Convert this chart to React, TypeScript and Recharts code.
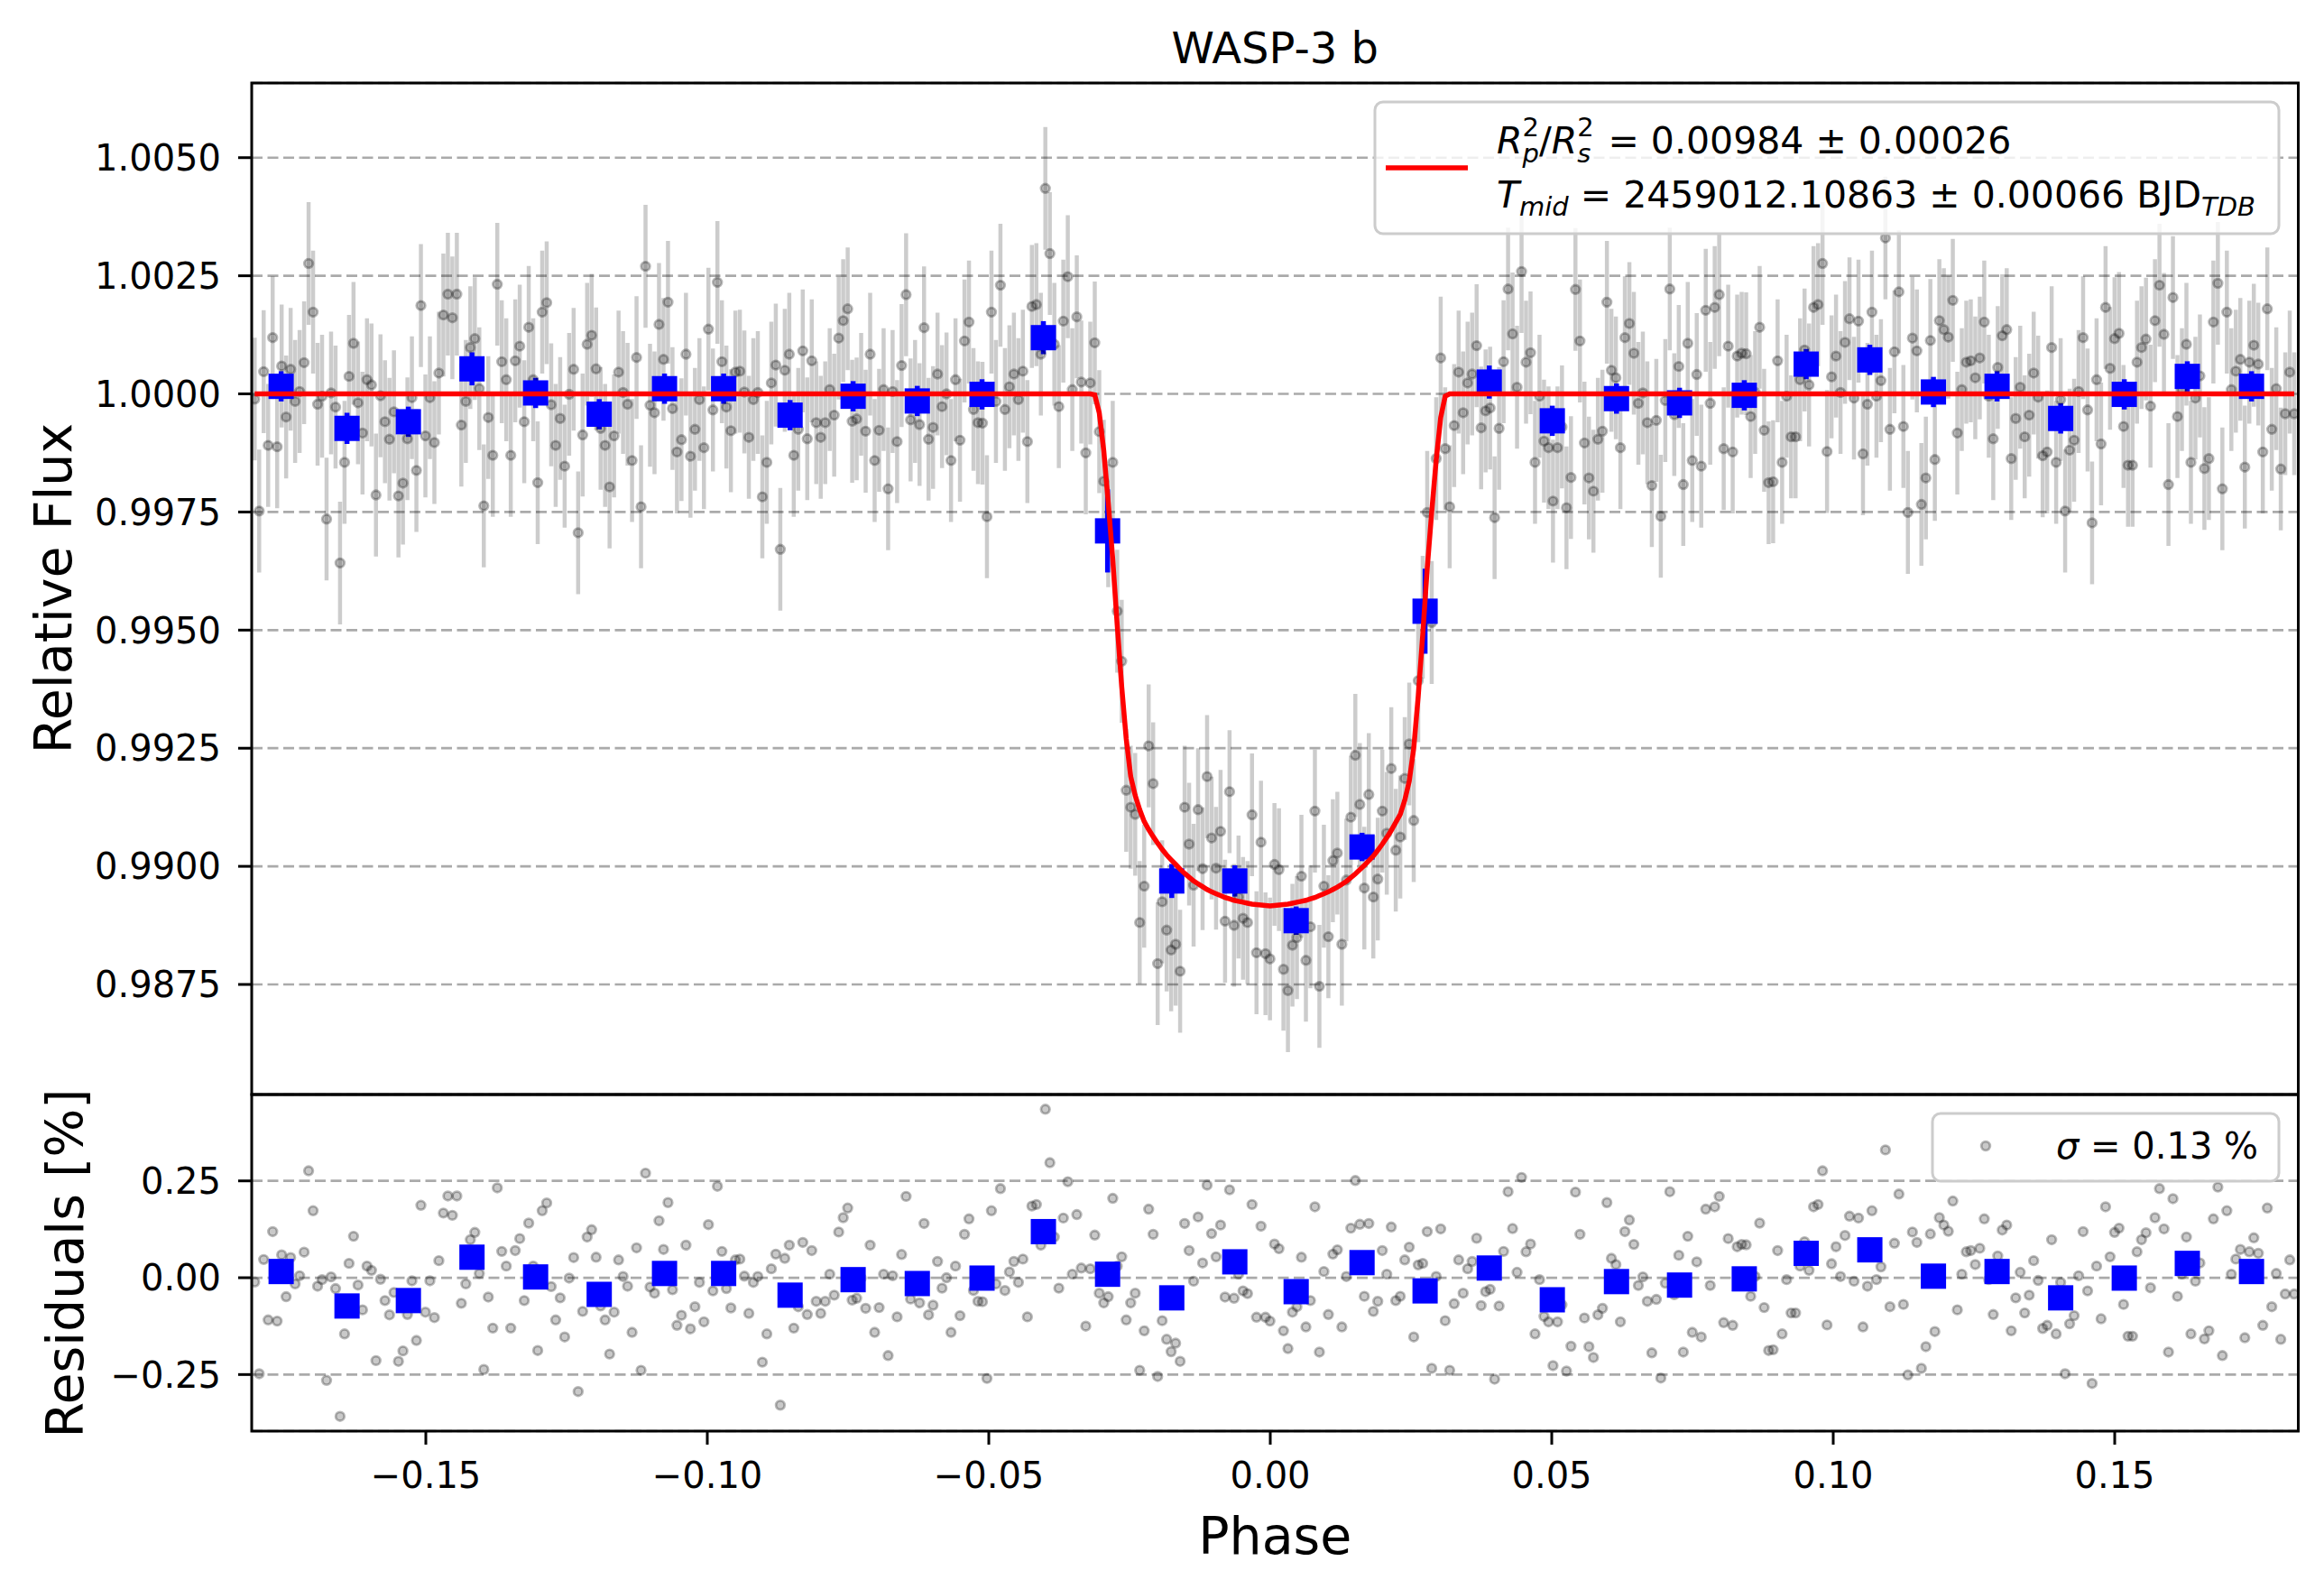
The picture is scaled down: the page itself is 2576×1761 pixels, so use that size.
import React from 'react';
import { ComposedChart, Scatter, Line, XAxis, YAxis, CartesianGrid, ErrorBar } from 'recharts';

const FONT = '"DejaVu Sans", Verdana, sans-serif';

// unbinned points are evenly sampled in phase
const PHASE_FIRST = -0.1804;
const PHASE_STEP = 0.000798;
const TRANSIT_HALF = 0.0312; // model is flat (1.0) outside |phase| < this
const GRAY_ERR = 0.0013;

// residuals of the unbinned points, in %
const RESIDUALS = [
  -0.011, -0.248, 0.047, -0.109, 0.119, -0.112, 0.059, -0.049, 0.052, -0.016,
  0.005, 0.066, 0.276, 0.173, -0.022, -0.005, -0.265, 0.002, -0.028, -0.358,
  -0.145, 0.037, 0.107, -0.019, -0.083, 0.030, 0.019, -0.214, -0.004, -0.059,
  -0.096, -0.038, -0.216, -0.189, -0.095, -0.008, -0.162, 0.187, -0.089, -0.008,
  -0.103, 0.044, 0.167, 0.211, 0.161, 0.211, -0.066, -0.016, 0.098, 0.117,
  0.011, -0.237, -0.050, -0.130, 0.232, 0.068, 0.030, -0.130, 0.070, 0.101,
  -0.059, 0.141, 0.030, -0.188, 0.173, 0.193, -0.023, -0.109, -0.052, -0.153,
  -0.001, 0.052, -0.294, -0.087, 0.105, 0.124, 0.053, -0.073, -0.109, -0.197,
  -0.089, 0.046, 0.003, -0.022, -0.141, 0.077, -0.239, 0.270, -0.024, -0.040,
  0.147, 0.073, 0.194, -0.031, -0.123, -0.097, 0.084, -0.132, -0.075, -0.012,
  -0.114, 0.137, -0.034, 0.236, 0.068, -0.028, -0.078, 0.046, 0.048, 0.004,
  -0.092, -0.012,
  0.003, -0.218, -0.145, 0.023, 0.061, -0.329, 0.050, 0.084, -0.130, -0.075,
  0.091, -0.095, 0.070, -0.061, -0.092, -0.061, 0.009, -0.045, 0.118, 0.155,
  0.180, -0.058, -0.053, -0.001, -0.079, 0.084, -0.141, -0.077, 0.009, -0.201,
  0.005, -0.101, 0.060, 0.210, -0.055, -0.016, -0.065, 0.140, -0.096, -0.071,
  0.042, -0.027, 0.000, -0.141, 0.030, -0.098, 0.112, 0.152, -0.033, -0.061,
  -0.062, -0.260, 0.173, -0.016, 0.230, -0.033, 0.015, 0.042, -0.012, 0.048,
  -0.101, 0.185, 0.189, 0.084, 0.435, 0.297, 0.105, -0.027, 0.154, 0.248,
  0.009, 0.163, 0.025, -0.125, 0.023, 0.110, -0.040, -0.065, -0.049, 0.205,
  0.030, 0.054, -0.109, -0.065, -0.040, -0.239, -0.137, 0.177, 0.112, -0.255,
  -0.111, -0.159, -0.191, -0.169, -0.216, 0.140, 0.070, -0.009, 0.157, 0.038,
  0.239, 0.114, 0.054, 0.136, -0.050, 0.227, -0.053, 0.009, -0.034, -0.041,
  0.189, -0.102, 0.133, -0.102, -0.112, 0.087, 0.075, -0.137, -0.183,
  -0.089, -0.075, 0.053, -0.127, -0.059, 0.183, -0.192, 0.016, -0.095, 0.061,
  0.072, -0.127, 0.003, 0.128, 0.251, 0.138, -0.048, 0.140, -0.087, -0.061,
  0.070, 0.009, 0.131, -0.059, -0.048, 0.046, 0.079, -0.153, 0.033, 0.037,
  0.119, -0.234, 0.003, 0.126, -0.111, -0.239, -0.067, 0.046, -0.040, 0.023,
  0.042, 0.102, -0.072, -0.036, -0.030, -0.262, -0.073, 0.068, 0.222, 0.127,
  0.014, 0.259, 0.067, 0.087, -0.145, -0.005, -0.100, -0.114, -0.227, -0.114,
  -0.070, -0.241, -0.177, 0.221, 0.112, -0.104, -0.178, -0.206, -0.096, -0.079,
  0.194, 0.050, 0.034, -0.114, 0.119, 0.149, 0.086, -0.020, 0.002, -0.061,
  -0.194, -0.056, -0.259, -0.014, 0.222, -0.044, 0.058, -0.192, 0.107, -0.141,
  0.041, -0.153, 0.177, -0.020, 0.183, 0.210, -0.116, 0.101, -0.123, 0.080,
  0.086, 0.085, -0.048, 0.003, 0.141, -0.077, -0.188, -0.186, 0.070, -0.145,
  -0.005, -0.091,
  -0.091, 0.030, 0.093, 0.019, 0.183, 0.189, 0.276, -0.122, 0.036, 0.080,
  0.003, 0.109, 0.159, -0.009, 0.154, -0.127, -0.022, 0.173, -0.005, 0.028,
  0.330, -0.075, 0.089, 0.216, -0.069, -0.251, 0.118, 0.091, -0.234, -0.178,
  0.113, -0.139, 0.155, 0.136, 0.120, 0.198, -0.083, 0.009, 0.067, 0.070,
  0.034, 0.076, 0.152, -0.005, -0.095, 0.056, 0.123, 0.136, -0.137, -0.052,
  0.014, -0.091, -0.045, 0.044, -0.007, -0.131, -0.123, 0.098, -0.145, -0.012,
  -0.248, -0.119, -0.098, 0.005, 0.119, -0.034, -0.273, 0.030, -0.106, 0.183,
  0.054, 0.117, 0.128, -0.069, -0.151, -0.151, 0.067, 0.098, 0.116, -0.026,
  0.155, 0.230, 0.126, -0.192, 0.204, -0.048, 0.009, 0.105, -0.145, -0.009,
  0.038, -0.158, -0.137, 0.152, 0.234, -0.201, 0.173, 0.009, 0.048, 0.073,
  -0.155, 0.067, 0.103, 0.063, -0.123, 0.180, -0.075, 0.011, -0.159, -0.042,
  0.046, -0.042,
];

// transit model at the in-transit sample phases
const MODEL_IN_TRANSIT = [
  0.99998, 0.9996, 0.9988, 0.9977, 0.9965, 0.9951, 0.9938, 0.9927, 0.9919, 0.9915,
  0.9912, 0.99095, 0.99078, 0.99063, 0.99049, 0.99036, 0.99024, 0.99014, 0.99004, 0.98994,
  0.98985, 0.98977, 0.98969, 0.98963, 0.98957, 0.98951, 0.98946, 0.98942, 0.98938, 0.98934,
  0.98931, 0.98928, 0.98926, 0.98924, 0.98922, 0.9892, 0.98919, 0.98918, 0.98917, 0.98916,
  0.98917, 0.98918, 0.98919, 0.9892, 0.98922, 0.98924, 0.98926, 0.98928, 0.98931, 0.98934,
  0.98938, 0.98942, 0.98946, 0.98951, 0.98956, 0.98962, 0.98968, 0.98976, 0.98984, 0.98993,
  0.99002, 0.99012, 0.99022, 0.99034, 0.99047, 0.99061, 0.99076, 0.99093, 0.9911, 0.9914,
  0.9918, 0.9925, 0.9936, 0.9949, 0.9963, 0.9975, 0.9986, 0.9995, 0.99995,
];

// binned points
const BIN_PHASE = [
  -0.1757, -0.164, -0.1531, -0.1418, -0.1305, -0.1192, -0.1076, -0.0971,
  -0.0853, -0.0741, -0.0627, -0.0512, -0.0403, -0.0289, -0.0175, -0.0063,
  0.0046, 0.0163, 0.0275, 0.0389, 0.0501, 0.0615, 0.0727, 0.0842,
  0.0952, 0.1065, 0.1178, 0.1291, 0.1404, 0.1517, 0.1629, 0.1743,
];
const BIN_FLUX = [
  1.00016, 0.99927, 0.99941, 1.00053, 1.00002, 0.99957, 1.00011, 1.00011,
  0.99955, 0.99995, 0.99985, 0.99999, 1.00119, 0.9971, 0.98969, 0.98969,
  0.98885, 0.99041, 0.9954, 1.00025, 0.99943, 0.9999, 0.99981, 0.99997,
  1.00063, 1.00072, 1.00004, 1.00016, 0.99948, 0.99999, 1.00037, 1.00016,
];
const BIN_ERR = [
  0.00032, 0.00033, 0.00032, 0.00035, 0.00032, 0.00032, 0.00032, 0.00032,
  0.00032, 0.00032, 0.00032, 0.00032, 0.00035, 0.00088, 0.00036, 0.00033,
  0.0003, 0.0003, 0.0009, 0.00035, 0.00032, 0.00032, 0.00032, 0.00032,
  0.00032, 0.00032, 0.00032, 0.00032, 0.00032, 0.00032, 0.00032, 0.00032,
];
const BIN_RESID = [
  0.016, -0.073, -0.059, 0.053, 0.002, -0.043, 0.011, 0.011,
  -0.045, -0.005, -0.015, -0.001, 0.119, 0.009, -0.052, 0.041,
  -0.036, 0.039, -0.034, 0.025, -0.057, -0.01, -0.019, -0.003,
  0.063, 0.072, 0.004, 0.016, -0.052, -0.001, 0.037, 0.016,
];

const FLUX_TICKS = [0.9875, 0.99, 0.9925, 0.995, 0.9975, 1.0, 1.0025, 1.005];
const RESID_TICKS = [-0.25, 0, 0.25];
const PHASE_TICKS = [-0.15, -0.1, -0.05, 0, 0.05, 0.1, 0.15];

const PHASE_DOMAIN = [-0.18093, 0.18261];
const FLUX_DOMAIN = [0.98517, 1.00658];
const RESID_DOMAIN = [-0.396, 0.473];

const fmt = (v: number, d: number) => (v < 0 ? '\u2212' : '') + Math.abs(v).toFixed(d);

// build series
const phases = RESIDUALS.map((_, i) => PHASE_FIRST + i * PHASE_STEP);
let k = 0;
const model = phases.map((p) =>
  Math.abs(p) < TRANSIT_HALF ? MODEL_IN_TRANSIT[Math.min(k++, MODEL_IN_TRANSIT.length - 1)] : 1.0
);
const grayTop = phases.map((p, i) => ({ x: p, y: model[i] + RESIDUALS[i] / 100, err: GRAY_ERR }));
const grayRes = phases.map((p, i) => ({ x: p, y: RESIDUALS[i] }));
const modelLine = phases.map((p, i) => ({ x: p, y: model[i] }));
const binTop = BIN_PHASE.map((p, i) => ({ x: p, y: BIN_FLUX[i], err: BIN_ERR[i] }));
const binRes = BIN_PHASE.map((p, i) => ({ x: p, y: BIN_RESID[i] }));

const DOT_FILL = 'rgba(0,0,0,0.21)';
const DOT_EDGE = 'rgba(0,0,0,0.27)';

const GrayDot = (props: any) => (
  <circle cx={props.cx} cy={props.cy} r={4.8} fill={DOT_FILL} stroke={DOT_EDGE} strokeWidth={2.8} />
);
const BlueSquare = (props: any) => (
  <rect x={props.cx - 14} y={props.cy - 14} width={28} height={28} fill="#0000ff" />
);

const tickStyle = { fontSize: 40, fill: '#000', fontFamily: FONT };
const tickLine = { stroke: '#000', strokeWidth: 3 };
const gridProps = { vertical: false, stroke: '#aaaaaa', strokeWidth: 2.7, strokeDasharray: '12 5.5' };

const LEFT = 279;
const RIGHT = 2547.5;
const TOP = 92;
const SPLIT = 1213;
const BOTTOM = 1586;

export default function App() {
  return (
    <div style={{ position: 'absolute', left: 0, top: 0, width: 2576, height: 1761, background: '#fff', fontFamily: FONT }}>
      <div style={{ position: 'absolute', left: 0, top: 0 }}>
        <ComposedChart width={2576} height={SPLIT} margin={{ top: TOP, right: 2576 - RIGHT, bottom: 0, left: 0 }}>
          <CartesianGrid {...gridProps} />
          <XAxis type="number" dataKey="x" domain={PHASE_DOMAIN} allowDataOverflow hide />
          <YAxis
            type="number"
            dataKey="y"
            domain={FLUX_DOMAIN}
            allowDataOverflow
            ticks={FLUX_TICKS}
            interval={0}
            width={LEFT}
            tickSize={15}
            tickMargin={19}
            tick={tickStyle}
            tickLine={tickLine}
            axisLine={false}
            tickFormatter={(v: number) => v.toFixed(4)}
          />
          <Scatter data={grayTop} dataKey="y" shape={GrayDot} isAnimationActive={false}>
            <ErrorBar dataKey="err" direction="y" width={0} stroke="rgba(0,0,0,0.2)" strokeWidth={4.5} isAnimationActive={false} />
          </Scatter>
          <Scatter data={binTop} dataKey="y" shape={BlueSquare} isAnimationActive={false}>
            <ErrorBar dataKey="err" direction="y" width={0} stroke="#0000ff" strokeWidth={5.5} isAnimationActive={false} />
          </Scatter>
          <Line
            data={modelLine}
            dataKey="y"
            type="linear"
            stroke="#ff0000"
            strokeWidth={5.5}
            dot={false}
            activeDot={false}
            isAnimationActive={false}
            zIndex={700}
          />
        </ComposedChart>
      </div>

      <div style={{ position: 'absolute', left: 0, top: SPLIT }}>
        <ComposedChart width={2576} height={1761 - SPLIT} margin={{ top: 0, right: 2576 - RIGHT, bottom: 0, left: 0 }}>
          <CartesianGrid {...gridProps} />
          <XAxis
            type="number"
            dataKey="x"
            domain={PHASE_DOMAIN}
            allowDataOverflow
            ticks={PHASE_TICKS}
            interval={0}
            height={1761 - BOTTOM}
            tickSize={15}
            tickMargin={20}
            tick={tickStyle}
            tickLine={tickLine}
            axisLine={false}
            tickFormatter={(v: number) => fmt(v, 2)}
          />
          <YAxis
            type="number"
            dataKey="y"
            domain={RESID_DOMAIN}
            allowDataOverflow
            ticks={RESID_TICKS}
            interval={0}
            width={LEFT}
            tickSize={15}
            tickMargin={19}
            tick={tickStyle}
            tickLine={tickLine}
            axisLine={false}
            tickFormatter={(v: number) => fmt(v, 2)}
          />
          <Scatter data={grayRes} dataKey="y" shape={GrayDot} isAnimationActive={false} />
          <Scatter data={binRes} dataKey="y" shape={BlueSquare} isAnimationActive={false} />
        </ComposedChart>
      </div>

      <svg
        width={2576}
        height={1761}
        style={{ position: 'absolute', left: 0, top: 0, pointerEvents: 'none' }}
        fontFamily={FONT}
      >
        <rect x={LEFT} y={TOP} width={RIGHT - LEFT} height={SPLIT - TOP} fill="none" stroke="#000" strokeWidth={3} />
        <rect x={LEFT} y={SPLIT} width={RIGHT - LEFT} height={BOTTOM - SPLIT} fill="none" stroke="#000" strokeWidth={3} />

        <text x={(LEFT + RIGHT) / 2} y={70} textAnchor="middle" fontSize={48}>WASP-3 b</text>
        <text transform="translate(79,652) rotate(-90)" textAnchor="middle" fontSize={57}>Relative Flux</text>
        <text transform="translate(92,1400) rotate(-90)" textAnchor="middle" fontSize={57}>Residuals [%]</text>
        <text x={(LEFT + RIGHT) / 2} y={1722} textAnchor="middle" fontSize={57}>Phase</text>

        <rect x={1524} y={113} width={1002} height={146} rx={9} fill="rgba(255,255,255,0.8)" stroke="#cccccc" strokeWidth={3} />
        <line x1={1536} x2={1627} y1={186} y2={186} stroke="#ff0000" strokeWidth={5.5} />
        <text x={1659} y={170} fontSize={41} style={{ whiteSpace: 'pre' }}>
          <tspan fontStyle="italic">R</tspan>
          <tspan fontSize={29} dy={-19}>2</tspan>
          <tspan fontSize={29} fontStyle="italic" dx={-18.4} dy={29}>p</tspan>
          <tspan dy={-10}>/</tspan>
          <tspan fontStyle="italic">R</tspan>
          <tspan fontSize={29} dy={-19}>2</tspan>
          <tspan fontSize={29} fontStyle="italic" dx={-18.4} dy={29}>s</tspan>
          <tspan dy={-10} dx={6}>{' = 0.00984 \u00b1 0.00026'}</tspan>
        </text>
        <text x={1659} y={230} fontSize={41} style={{ whiteSpace: 'pre' }}>
          <tspan fontStyle="italic">T</tspan>
          <tspan fontSize={29} fontStyle="italic" dy={9}>mid</tspan>
          <tspan dy={-9}>{' = 2459012.10863 \u00b1 0.00066 BJD'}</tspan>
          <tspan fontSize={29} fontStyle="italic" dy={9}>TDB</tspan>
        </text>

        <rect x={2142} y={1234} width={384} height={75} rx={9} fill="rgba(255,255,255,0.8)" stroke="#cccccc" strokeWidth={3} />
        <circle cx={2201} cy={1270} r={4.8} fill={DOT_FILL} stroke={DOT_EDGE} strokeWidth={2.8} />
        <text x={2279} y={1284} fontSize={40} style={{ whiteSpace: 'pre' }}>
          <tspan fontStyle="italic">{'\u03c3'}</tspan>
          <tspan>{' = 0.13 %'}</tspan>
        </text>
      </svg>
    </div>
  );
}
